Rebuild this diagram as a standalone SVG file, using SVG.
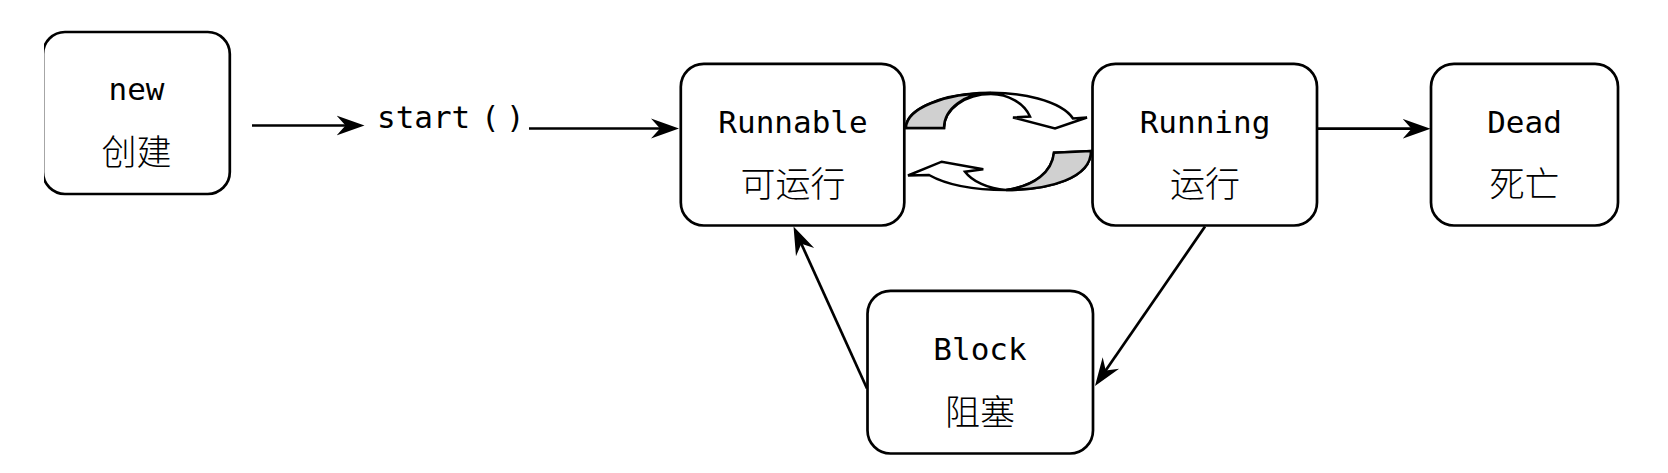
<svg xmlns="http://www.w3.org/2000/svg" width="1668" height="473" viewBox="0 0 1668 473">
<style>
.box{fill:#fff;stroke:#000;stroke-width:2.7}
.lat{font-family:"DejaVu Sans Mono","Liberation Mono",monospace;font-size:31px;fill:#000;text-anchor:middle}
.cjk{font-family:"Noto Sans CJK SC",sans-serif;font-size:35px;font-weight:300;fill:#000;text-anchor:middle}
.edge{fill:none;stroke:#000;stroke-width:2.7}
.cyc{fill:#fff;stroke:#000;stroke-width:2.5;stroke-linejoin:miter}
.shade{fill:#d0d0d0;stroke:#000;stroke-width:2.5;stroke-linejoin:miter}
</style>
<defs>
<marker id="ah" viewBox="0 0 30 22" markerWidth="30" markerHeight="22" refX="22" refY="11" orient="auto" markerUnits="userSpaceOnUse">
<path d="M0,1 L28,11 L0,21 L9,11 Z" fill="#000"/>
</marker>
<clipPath id="clipNew"><rect x="44" y="0" width="400" height="473"/></clipPath>
</defs>
<rect width="1668" height="473" fill="#fff"/>

<g id="connectors">
<path class="edge" d="M252,125.5 L358.5,125.5" marker-end="url(#ah)"/>
<path class="edge" d="M529,128.5 L673,128.5" marker-end="url(#ah)"/>
<path class="edge" d="M1318,128.7 L1424.5,128.7" marker-end="url(#ah)"/>
<path class="edge" d="M1205,226.6 L1098.4,381.1" marker-end="url(#ah)"/>
<path class="edge" d="M867,388.5 L796,232" marker-end="url(#ah)"/>
<g id="cycle-upper">
<path class="cyc" d="M906,128 A85 35 0 0 1 1073,118.5 L1087,117.5 L1055,128.5 L1013,117.5 L1030,116.5 A42 34 0 0 0 991,94 A47 34 0 0 0 944,128 Z"/>
<path class="shade" d="M906,128 A85 35 0 0 1 991,93 A47 35 0 0 0 944,128 Z"/>
</g>
<g id="cycle-lower">
<path class="cyc" d="M1091,151 C1091,178 1050,190 1006,190 C970,190 945,184 929,175 L908,175.5 L941.7,161.7 L983.3,169.3 L965,171.7 C972,181 988,189 1006,190 C1035,186 1052,172 1054,152.7 Z"/>
<path class="shade" d="M1091,151 C1091,178 1050,190 1006,190 C1035,186 1052,172 1054,152.7 Z"/>
</g>
<text id="start-label" font-family="DejaVu Sans Mono, Liberation Mono, monospace" font-size="31" fill="#000" x="377 395.66 414.3 433 451.6 470 481 506" y="128">start ()</text>
</g>

<g id="node-new">
<rect class="box" x="43" y="32" width="186.8" height="162" rx="22" clip-path="url(#clipNew)"/>
<text class="lat" x="136.5" y="100">new</text>
<text class="cjk" x="136.5" y="165">创建</text>
</g>

<g id="node-runnable">
<rect class="box" x="680.8" y="63.8" width="223.5" height="161.7" rx="23"/>
<text class="lat" x="793" y="132.7">Runnable</text>
<text class="cjk" x="793" y="197">可运行</text>
</g>

<g id="node-running">
<rect class="box" x="1092.5" y="63.8" width="224.5" height="161.7" rx="23"/>
<text class="lat" x="1205" y="132.7">Running</text>
<text class="cjk" x="1205" y="197">运行</text>
</g>

<g id="node-dead">
<rect class="box" x="1431" y="63.8" width="187" height="161.7" rx="23"/>
<text class="lat" x="1524.5" y="132.7">Dead</text>
<text class="cjk" x="1524.5" y="197">死亡</text>
</g>

<g id="node-block">
<rect class="box" x="867.5" y="290.8" width="225.5" height="162.7" rx="23"/>
<text class="lat" x="980" y="360">Block</text>
<text class="cjk" x="980" y="425">阻塞</text>
</g>
</svg>
